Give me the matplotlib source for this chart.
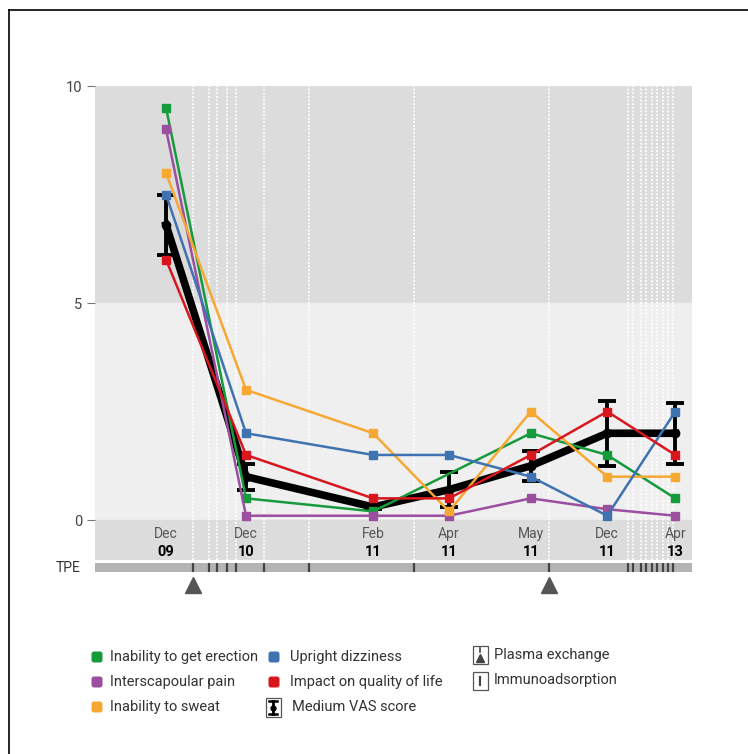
import numpy as np
import matplotlib.pyplot as plt
from matplotlib.patches import FancyBboxPatch, Rectangle

plt.rcParams['font.family'] = ['Roboto', 'DejaVu Sans']

# visits (non-uniform time scale, position in % of axis width)
months = ['Dec', 'Dec', 'Feb', 'Apr', 'May', 'Dec', 'Apr']
years = ['09', '10', '11', '11', '11', '11', '13']
visit_pos = [11.9, 25.3, 46.6, 59.3, 73.0, 85.8, 97.2]

# symptom scores
erection_idx = [0, 1, 2, 4, 5, 6]
erection = [9.5, 0.5, 0.2, 2.0, 1.5, 0.5]
pain = [9.0, 0.1, 0.1, 0.1, 0.5, 0.25, 0.1]
sweat = [8.0, 3.0, 2.0, 0.2, 2.5, 1.0, 1.0]
dizziness = [7.5, 2.0, 1.5, 1.5, 1.0, 0.1, 2.5]
quality = [6.0, 1.5, 0.5, 0.5, 1.5, 2.5, 1.5]
vas_mean = [6.8, 1.0, 0.3, 0.7, 1.25, 2.0, 2.0]
vas_err = [0.7, 0.3, 0.05, 0.4, 0.35, 0.75, 0.7]

# treatments
plasma_pos = [16.4, 76.0]
immuno_pos = [19.1, 20.4, 22.1, 23.6, 28.3, 35.8, 53.4,
              89.3, 90.1, 91.5, 92.3, 93.3, 94.1, 95.1, 96.0, 96.8]

GREEN = '#169b3c'
PURPLE = '#9b4f9f'
ORANGE = '#f7a833'
BLUE = '#3f72b0'
RED = '#d7161e'

fig = plt.figure(figsize=(7.48, 7.54), dpi=100)

# overlay axes in pixel coordinates for legend and frame
lg = fig.add_axes([0, 0, 1, 1])
lg.set_xlim(0, 748)
lg.set_ylim(754, 0)
lg.axis('off')
lg.plot([9, 748], [10, 10], color='black', lw=1.2)
lg.plot([9, 9], [10, 754], color='black', lw=1.2)

ax = fig.add_axes([95 / 748, 1 - 560 / 754, 597 / 748, 474 / 754])
ax.set_xlim(0, 100)
ax.set_ylim(-0.92, 10)
ax.axhspan(5, 10, color='#dcdcdc', zorder=0)
ax.axhspan(0, 5, color='#efefef', zorder=0)
ax.axhspan(-0.92, 0, color='#dcdcdc', zorder=0)
for p in plasma_pos + immuno_pos:
    ax.axvline(p, color='white', lw=1.3, ls=(0, (1, 1)), zorder=1)

for s in ax.spines.values():
    s.set_visible(False)
ax.set_xticks([])
ax.set_yticks([0, 5, 10])
ax.set_yticklabels(['0', '5', '10'], fontsize=10.5, color='#444444')
ax.tick_params(axis='y', length=6, width=0.8, color='#777777', pad=3)

for m, yr, p in zip(months, years, visit_pos):
    ax.text(p, -0.33, m, ha='center', va='center', fontsize=10, color='#555555')
    ax.text(p, -0.74, yr, ha='center', va='center', fontsize=10.5, color='black',
            fontweight='bold')

# medium VAS (drawn under the single symptoms)
ax.errorbar(visit_pos, vas_mean, yerr=vas_err, color='black', lw=5.5,
            elinewidth=2.8, capsize=6.5, capthick=2.8, marker='o', ms=6, zorder=3)

series = [
    ([visit_pos[i] for i in erection_idx], erection, GREEN),
    (visit_pos, pain, PURPLE),
    (visit_pos, sweat, ORANGE),
    (visit_pos, dizziness, BLUE),
    (visit_pos, quality, RED),
]
for xs, ys, c in series:
    ax.plot(xs, ys, color=c, lw=1.8, marker='s', ms=5.5, zorder=4)

# TPE bar
tp = fig.add_axes([95 / 748, 1 - 572 / 754, 597 / 748, 9 / 754])
tp.set_xlim(0, 100)
tp.set_ylim(0, 1)
tp.set_facecolor('#b4b4b4')
for s in tp.spines.values():
    s.set_visible(False)
tp.set_xticks([])
tp.set_yticks([])
for p in plasma_pos + immuno_pos:
    tp.plot([p, p], [0.1, 0.9], color='#444444', lw=1.6)
tp.plot(plasma_pos, [-1.45] * len(plasma_pos), marker='^', ls='none',
        color='#555555', ms=12, clip_on=False)
tp.text(-2.5, 0.5, 'TPE', ha='right', va='center', fontsize=10, color='#333333')

# legend
def square(x, y, c):
    lg.add_patch(FancyBboxPatch((x - 5.5, y - 5.5), 11, 11,
                                boxstyle='round,pad=0,rounding_size=2.5',
                                fc=c, ec='none'))

items = [
    (97, 110, 657, GREEN, 'Inability to get erection'),
    (97, 110, 682, PURPLE, 'Interscapoular pain'),
    (97, 110, 707, ORANGE, 'Inability to sweat'),
    (274, 290, 657, BLUE, 'Upright dizziness'),
    (274, 290, 682, RED, 'Impact on quality of life'),
]
for mx, tx, y, c, t in items:
    square(mx, y, c)
    lg.text(tx, y, t, va='center', ha='left', fontsize=10.5, color='#333333')

# VAS icon
lg.add_patch(Rectangle((266, 698), 15, 19, fc='white', ec='#555555', lw=0.9))
lg.plot([273.5, 273.5], [701, 714], color='black', lw=2)
lg.plot([269.5, 277.5], [701, 701], color='black', lw=1.8)
lg.plot([269.5, 277.5], [714, 714], color='black', lw=1.8)
lg.plot([273.5], [707.5], marker='o', color='black', ms=3.5)
lg.text(292, 707, 'Medium VAS score', va='center', ha='left', fontsize=10.5,
        color='#333333')

# plasma exchange icon
lg.add_patch(Rectangle((473, 646), 15, 18, fc='white', ec='#555555', lw=0.9))
lg.plot([480.5, 480.5], [648, 652], color='#444444', lw=1.2)
lg.plot([480.5], [658], marker='^', color='#444444', ms=6)
lg.text(494, 655, 'Plasma exchange', va='center', ha='left', fontsize=10.5,
        color='#333333')

# immunoadsorption icon
lg.add_patch(Rectangle((473, 672), 15, 18, fc='white', ec='#555555', lw=0.9))
lg.plot([480.5, 480.5], [677, 685], color='#444444', lw=1.6)
lg.text(494, 680, 'Immunoadsorption', va='center', ha='left', fontsize=10.5,
        color='#333333')

fig.savefig('out.png', dpi=100)
